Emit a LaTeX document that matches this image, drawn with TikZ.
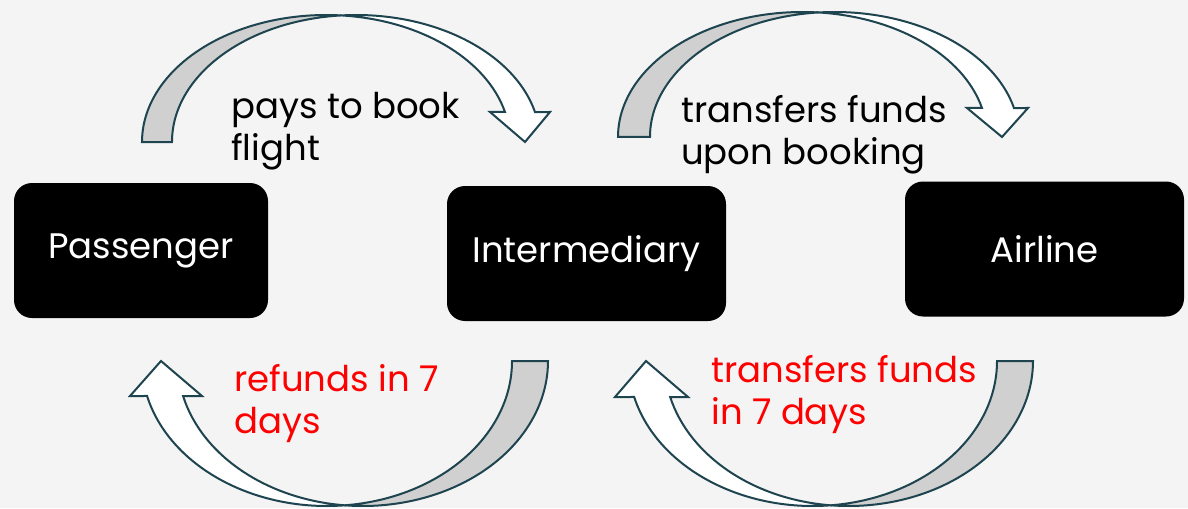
\documentclass[tikz,border=0pt]{standalone}
\usepackage{fontspec}
\setmainfont{Poppins}
\definecolor{edgec}{HTML}{1E4450}
\definecolor{backc}{HTML}{D0D0D0}
\definecolor{bgc}{HTML}{F4F4F4}
\definecolor{redc}{HTML}{FF0000}
\newcommand{\bentarrow}[7]{%
  \pgfmathsetmacro\myarcA{acos(#1/(2*#2))}%
  \pgfmathsetmacro\myarcB{asin(#4/#3)}%
  \filldraw[backside] ({-#1/2-#2},0)
    arc[start angle=180,end angle=\myarcA,x radius=#2,y radius=#3]
    arc[start angle={180-\myarcA},end angle=180,x radius=#2,y radius=#3] -- cycle;
  \filldraw[frontside] (0,{#3*sin(\myarcA)})
    arc[start angle={180-\myarcA},end angle=\myarcB,x radius=#2,y radius=#3]
    -- (#6,#4) -- (#7,0) -- (#5,#4) -- ({-#1/2+#2*cos(\myarcB)},#4)
    arc[start angle=\myarcB,end angle=\myarcA,x radius=#2,y radius=#3] -- cycle;
}
\begin{document}
\begin{tikzpicture}[x=0.75pt,y=0.75pt,
  backside/.style={fill=backc,draw=edgec,line width=1.5pt,line join=miter},
  frontside/.style={fill=white,draw=edgec,line width=1.5pt,line join=miter},
  box/.style={fill=black,rounded corners=13.5pt,text=white,minimum height=101.25pt,inner sep=0pt,font=\fontsize{26.6}{31}\selectfont},
  lbl/.style={align=left,inner sep=0pt,font=\fontsize{26.6}{31}\selectfont},
]
\fill[bgc] (0,0) rectangle (1188,508);
\useasboundingbox (0,0) rectangle (1188,508);

\node[box,minimum width=190.5pt] (pass) at (141,257.5) {Passenger};
\node[box,minimum width=209.25pt] (inter) at (586.5,254.5) {Intermediary};
\node[box,minimum width=209.25pt] (air) at (1044.5,259) {Airline};

\begin{scope}[shift={(341.1,366)}]
  \bentarrow{30}{184.1}{127}{30}{148.9}{208.9}{183.9}
\end{scope}
\begin{scope}[shift={(818.5,371)}]
  \bentarrow{32}{184.5}{125}{29}{148.5}{209.5}{183.5}
\end{scope}
\begin{scope}[shift={(344.8,147)},rotate=180]
  \bentarrow{36}{185.2}{145}{35}{142.8}{214.8}{183.8}
\end{scope}
\begin{scope}[shift={(830.7,147)},rotate=180]
  \bentarrow{36}{184.3}{145}{36}{142.7}{215.7}{184.7}
\end{scope}

\node[lbl,anchor=base west] (l1) at (231,348) {pays to book\\flight};
\node[lbl,anchor=base west] (l2) at (681,344) {transfers funds\\upon booking};
\node[lbl,anchor=base west,text=redc] (l3) at (234,75) {refunds in 7\\days};
\node[lbl,anchor=base west,text=redc] (l4) at (711,84) {transfers funds\\in 7 days};
\end{tikzpicture}
\end{document}
